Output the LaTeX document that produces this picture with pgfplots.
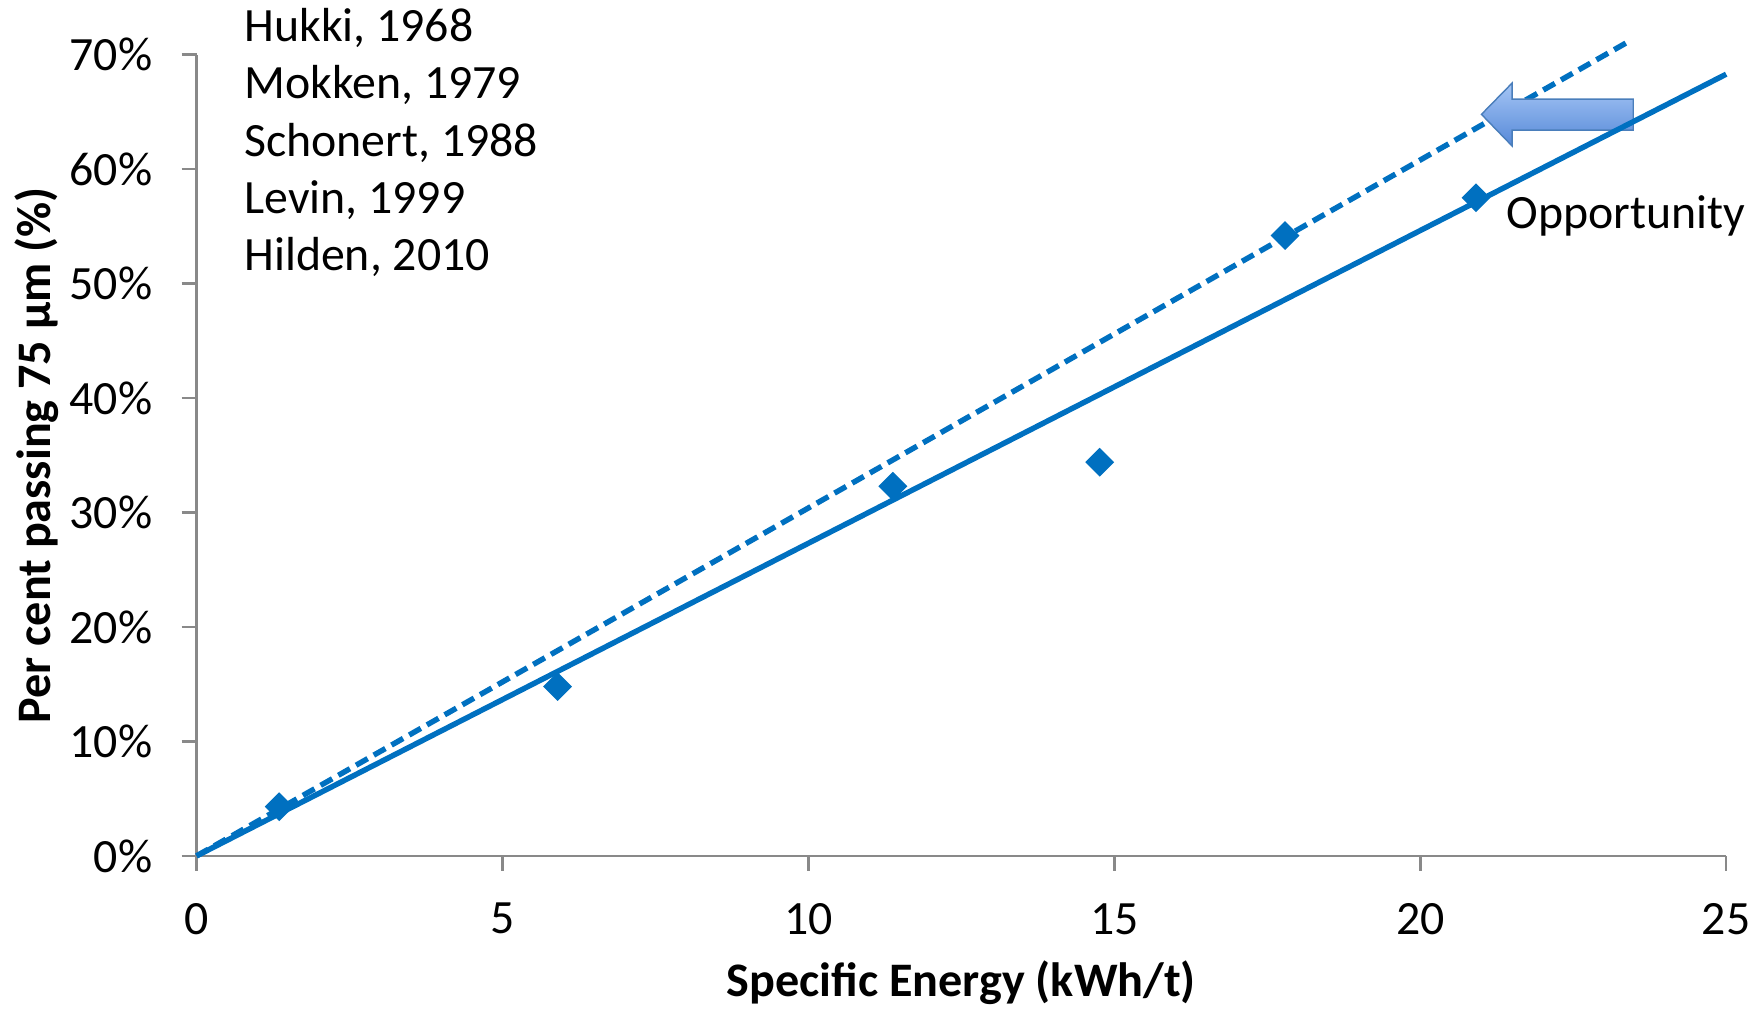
\documentclass[border=0pt]{standalone}
\usepackage{fontspec}
\setmainfont{Carlito}
\usepackage{pgfplots}
\pgfplotsset{compat=1.18}
\definecolor{lineblue}{HTML}{0070C0}
\definecolor{axgray}{HTML}{898989}
\definecolor{arrtop}{HTML}{A5C6F5}
\definecolor{arrbot}{HTML}{5688D8}
\definecolor{arredge}{HTML}{4A7EBB}
\begin{document}
\begin{tikzpicture}
\begin{axis}[
  at={(0,0)}, anchor=south west,
  scale only axis,
  width=15.296cm, height=8.012cm,
  xmin=0, xmax=25, ymin=0, ymax=70,
  axis x line=bottom, axis y line=left,
  axis line style={-, axgray, line width=0.7pt},
  tick style={axgray, line width=0.7pt},
  tick align=outside,
  major tick length=0.15cm,
  xtick={0,5,...,25},
  ytick={0,10,...,70},
  yticklabel={\pgfmathprintnumber{\tick}\%},
  /pgf/number format/assume math mode=true,
  ticklabel style={font=\fontsize{13.6}{16}\selectfont, text=black},
  xticklabel style={yshift=-0.2cm},
  yticklabel style={xshift=-0.17cm},
  clip=false,
  xlabel={Specific Energy (kWh/t)},
  ylabel={Per cent passing 75 µm (\%)},
  xlabel style={at={(axis description cs:0.5,0)}, anchor=center, yshift=-1.27cm, font=\fontsize{13.7}{16}\selectfont\bfseries},
  ylabel style={at={(axis description cs:0,0.5)}, anchor=center, yshift=1.6cm, font=\fontsize{13.7}{16}\selectfont\bfseries},
]
\addplot[lineblue, line width=1.55pt, dash pattern=on 3.8pt off 2pt] coordinates {(0,0) (23.41,71.17)};
\filldraw[draw=arredge, line width=0.4pt, top color=arrtop, bottom color=arrbot]
  (axis cs:21.00,64.79) -- (axis cs:21.50,67.52) -- (axis cs:21.50,66.12) -- (axis cs:23.48,66.12)
  -- (axis cs:23.48,63.41) -- (axis cs:21.50,63.41) -- (axis cs:21.50,62.03) -- cycle;
\addplot[lineblue, line width=1.55pt] coordinates {(0,0) (25,68.3)};
\addplot[only marks, mark=square*, mark size=2.7pt, mark options={rotate=45, fill=lineblue, draw=lineblue}, color=lineblue] coordinates {
  (1.35,4.3) (5.90,14.8) (11.38,32.3) (14.76,34.4) (17.79,54.2) (20.91,57.5)
};
\begin{scope}[every node/.style={inner sep=0pt, font=\fontsize{13.6}{16}\selectfont}]
\node[anchor=west] at (axis cs:21.40,55.9) {Opportunity};
\node[anchor=base west] at (axis cs:0.77,71.15) {Hukki, 1968};
\node[anchor=base west] at (axis cs:0.77,66.15) {Mokken, 1979};
\node[anchor=base west] at (axis cs:0.77,61.15) {Schonert, 1988};
\node[anchor=base west] at (axis cs:0.77,56.15) {Levin, 1999};
\node[anchor=base west] at (axis cs:0.77,51.15) {Hilden, 2010};
\end{scope}
\end{axis}
\pgfresetboundingbox
\useasboundingbox (-1.966,-1.531) rectangle (15.554,8.559);
\end{tikzpicture}
\end{document}
